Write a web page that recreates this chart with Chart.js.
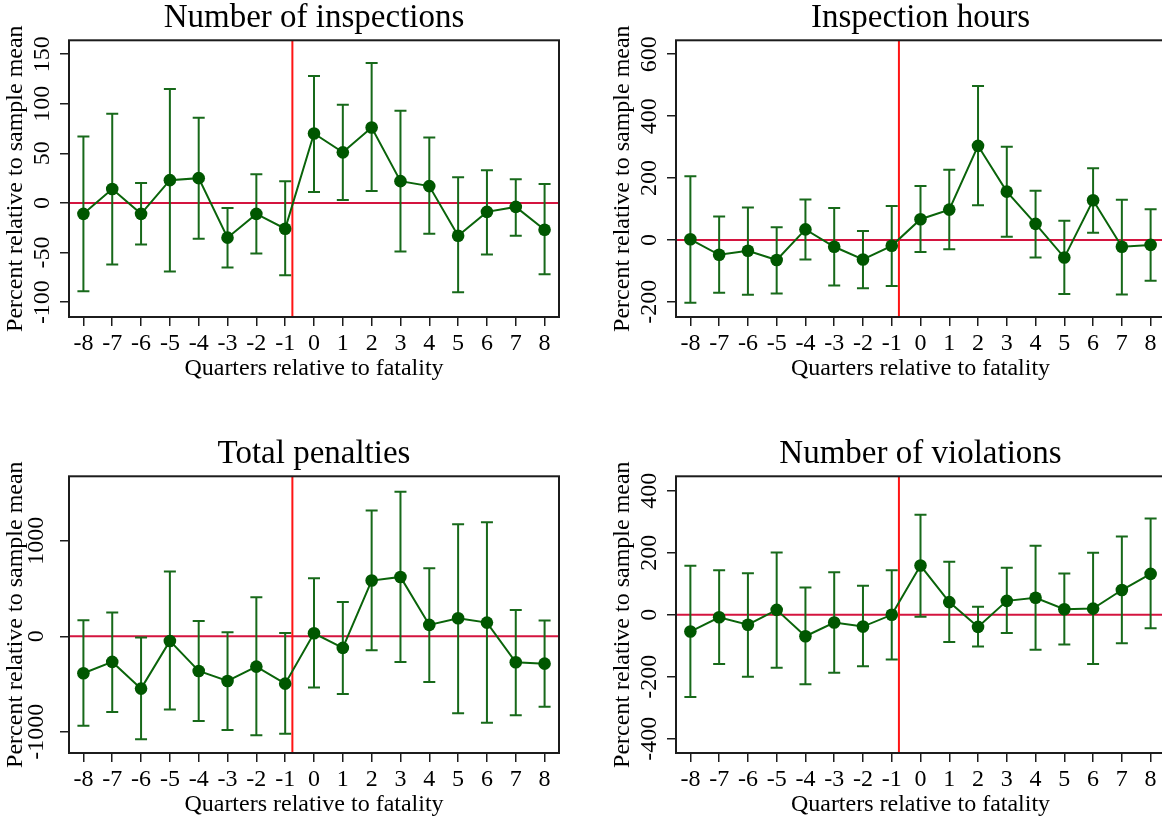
<!DOCTYPE html>
<html>
<head>
<meta charset="utf-8">
<script src="https://cdn.jsdelivr.net/npm/chart.js@4"></script>
<style>
  html, body { margin: 0; padding: 0; background: #fff; overflow: hidden; width: 1162px; height: 818px; }
  .panel { position: absolute; }
</style>
</head>
<body>
<canvas id="g1" class="panel" width="580" height="390" style="left:0;top:0"></canvas>
<canvas id="g2" class="panel" width="640" height="390" style="left:607px;top:0"></canvas>
<canvas id="g3" class="panel" width="580" height="390" style="left:0;top:436px"></canvas>
<canvas id="g4" class="panel" width="640" height="390" style="left:607px;top:436px"></canvas>
<script>
// trimestres alrededor del accidente fatal
const quarters = [-8, -7, -6, -5, -4, -3, -2, -1, 0, 1, 2, 3, 4, 5, 6, 7, 8];
const eventLine = -0.75;

// numero de inspecciones
const inspEst = [-11, 14, -11, 23, 25, -35, -11, -26, 70, 51, 76, 22, 17, -33, -9, -4, -27];
const inspLo  = [-89, -62, -42, -69, -36, -65, -51, -73, 11, 3, 12, -49, -31, -90, -52, -33, -72];
const inspHi  = [67, 90, 20, 115, 86, -5, 29, 22, 128, 99, 141, 93, 66, 26, 33, 24, 19];
const inspTicks = [-100, -50, 0, 50, 100, 150];

// horas de inspeccion
const hoursEst = [2, -48, -35, -65, 34, -22, -63, -19, 67, 98, 304, 156, 52, -57, 128, -22, -16];
const hoursLo  = [-203, -171, -177, -173, -63, -147, -156, -149, -39, -30, 112, 10, -57, -175, 23, -176, -132];
const hoursHi  = [206, 76, 105, 41, 131, 103, 29, 110, 174, 227, 497, 301, 159, 62, 232, 130, 99];
const hoursTicks = [-200, 0, 200, 400, 600];

// multas totales
const penEst = [-388, -269, -549, -49, -364, -469, -318, -497, 31, -122, 584, 622, 119, 189, 143, -273, -287];
const penLo  = [-937, -794, -1080, -769, -888, -983, -1038, -1021, -538, -605, -147, -269, -479, -808, -906, -829, -738];
const penHi  = [168, 248, -14, 678, 161, 42, 409, 35, 608, 360, 1318, 1514, 713, 1175, 1196, 276, 164];
const penTicks = [-1000, -500, 0, 500, 1000, 1500];
const penLabels = [-1000, 0, 1000];

// numero de violaciones
const violEst = [-54, -8, -32, 16, -69, -25, -38, 0, 159, 41, -39, 45, 55, 18, 20, 80, 132];
const violLo  = [-265, -159, -200, -171, -224, -187, -166, -144, -6, -88, -102, -59, -113, -96, -159, -92, -43];
const violHi  = [158, 144, 134, 201, 88, 137, 94, 144, 323, 171, 26, 152, 223, 133, 200, 253, 311];
const violTicks = [-400, -200, 0, 200, 400];

Chart.defaults.font.family = "'Liberation Serif', 'DejaVu Serif', serif";
Chart.defaults.color = '#000';

// lineas de referencia, intervalos de confianza y marco
const marcas = {
  id: 'marcas',
  beforeDatasetsDraw(chart, args, opts) {
    const { ctx, chartArea: a, scales: { x, y } } = chart;
    ctx.save();
    ctx.lineWidth = 2;
    // cero
    ctx.strokeStyle = '#d4143f';
    const y0 = y.getPixelForValue(0);
    ctx.beginPath(); ctx.moveTo(a.left, y0); ctx.lineTo(a.right, y0); ctx.stroke();
    // momento del accidente
    ctx.strokeStyle = '#ff1414';
    const xe = x.getPixelForValue(eventLine);
    ctx.beginPath(); ctx.moveTo(xe, a.top); ctx.lineTo(xe, a.bottom); ctx.stroke();
    // barras de error
    ctx.strokeStyle = '#17691a';
    opts.lo.forEach((lo, i) => {
      const px = x.getPixelForValue(quarters[i]);
      const y1 = y.getPixelForValue(lo);
      const y2 = y.getPixelForValue(opts.hi[i]);
      ctx.beginPath();
      ctx.moveTo(px, y1); ctx.lineTo(px, y2);
      ctx.moveTo(px - 6, y1); ctx.lineTo(px + 6, y1);
      ctx.moveTo(px - 6, y2); ctx.lineTo(px + 6, y2);
      ctx.stroke();
    });
    ctx.restore();
  },
  afterDraw(chart) {
    const { ctx, chartArea: a } = chart;
    ctx.save();
    ctx.strokeStyle = '#1c1c1c';
    ctx.lineWidth = 2;
    ctx.strokeRect(a.left, a.top, a.right - a.left, a.bottom - a.top);
    ctx.restore();
  }
};

function panel(id, titulo, est, lo, hi, yMin, yMax, yTicks, yLabels, padRight) {
  const grid = { drawOnChartArea: false, tickLength: 9, color: '#1c1c1c', lineWidth: 1.5 };
  return new Chart(document.getElementById(id), {
    type: 'line',
    data: {
      datasets: [{
        data: quarters.map((q, i) => ({ x: q, y: est[i] })),
        borderColor: '#0a640a',
        borderWidth: 2,
        pointRadius: 6.3,
        pointBackgroundColor: '#005700',
        pointBorderWidth: 0,
        tension: 0
      }]
    },
    options: {
      responsive: false,
      animation: false,
      layout: { padding: { top: 0, right: padRight, bottom: 0, left: 0 } },
      plugins: {
        legend: { display: false },
        tooltip: { enabled: false },
        title: {
          display: true, text: titulo, fullSize: false, color: '#000',
          font: { size: 33, weight: 'normal', lineHeight: 1.1 }, padding: { top: 0, bottom: 4 }
        },
        marcas: { lo, hi }
      },
      scales: {
        x: {
          type: 'linear', min: -8.5, max: 8.5,
          afterBuildTicks: s => { s.ticks = quarters.map(v => ({ value: v })); },
          afterFit: s => { s.height = 73; },
          ticks: { font: { size: 24 }, padding: 3, maxRotation: 0, color: '#000', callback: v => String(v) },
          grid, border: { display: false },
          title: { display: true, text: 'Quarters relative to fatality', color: '#000', font: { size: 24 }, padding: { top: 0, bottom: 7 } }
        },
        y: {
          min: yMin, max: yMax,
          afterBuildTicks: s => { s.ticks = yTicks.map(v => ({ value: v })); },
          afterFit: s => { s.width = 69; },
          ticks: {
            font: { size: 24 }, minRotation: 90, maxRotation: 90, crossAlign: 'center', padding: -5, color: '#000',
            callback: v => (yLabels.includes(v) ? String(v) : '')
          },
          grid, border: { display: false },
          title: { display: true, text: 'Percent relative to sample mean', color: '#000', font: { size: 24 }, padding: { top: 1, bottom: 0 } }
        }
      }
    },
    plugins: [marcas]
  });
}

panel('g1', 'Number of inspections', inspEst, inspLo, inspHi, -115, 164, inspTicks, inspTicks, 21);
panel('g2', 'Inspection hours', hoursEst, hoursLo, hoursHi, -249, 645, hoursTicks, hoursTicks, 82);
panel('g3', 'Total penalties', penEst, penLo, penHi, -1224, 1677, penTicks, penLabels, 21);
panel('g4', 'Number of violations', violEst, violLo, violHi, -446, 447, violTicks, violTicks, 82);
</script>
</body>
</html>
